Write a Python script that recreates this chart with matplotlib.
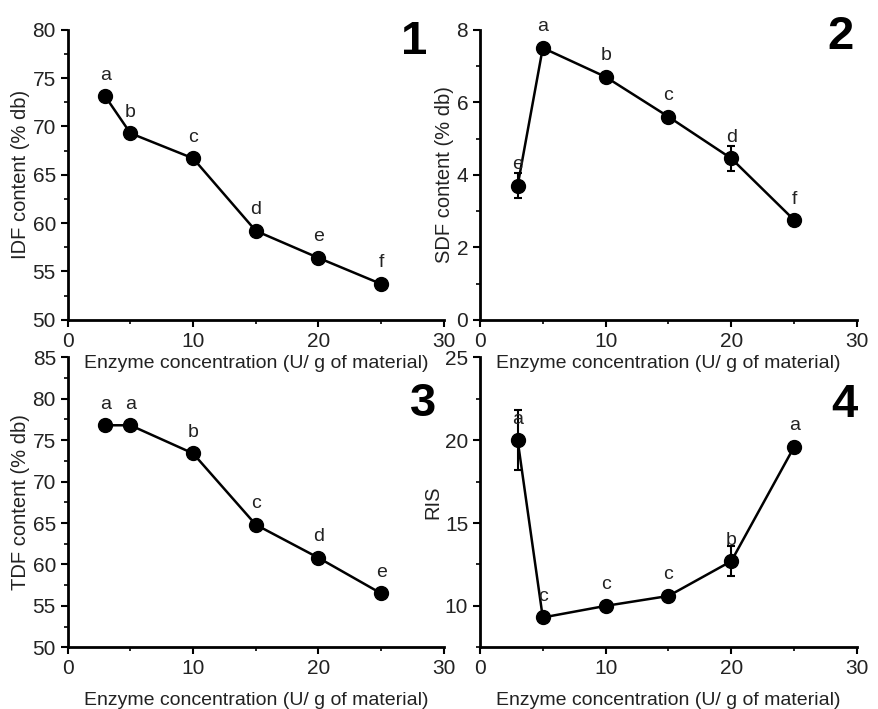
import numpy as np
import matplotlib.pyplot as plt
from matplotlib.ticker import MultipleLocator

plt.rcParams['font.family'] = ['Liberation Sans', 'DejaVu Sans']

# enzyme concentration (U/ g of material)
conc = [3, 5, 10, 15, 20, 25]

idf = [73.1, 69.3, 66.7, 59.2, 56.4, 53.7]
idf_err = [0.3, 0.5, 0.5, 0.3, 0.3, 0.2]
idf_lbl = ["a", "b", "c", "d", "e", "f"]

sdf = [3.7, 7.5, 6.7, 5.6, 4.45, 2.75]
sdf_err = [0.35, 0.08, 0.1, 0.08, 0.35, 0.08]
sdf_lbl = ["e", "a", "b", "c", "d", "f"]

tdf = [76.8, 76.8, 73.4, 64.8, 60.8, 56.5]
tdf_err = [0.3, 0.3, 0.5, 0.4, 0.5, 0.3]
tdf_lbl = ["a", "a", "b", "c", "d", "e"]

ris = [20.0, 9.3, 10.0, 10.6, 12.7, 19.6]
ris_err = [1.8, 0.15, 0.2, 0.2, 0.9, 0.3]
ris_lbl = ["a", "c", "c", "c", "b", "a"]

fig = plt.figure(figsize=(8.79, 7.09), dpi=100)

panels = [
    ([0.077, 0.549, 0.428, 0.409], idf, idf_err, idf_lbl, "IDF content (% db)", (50, 80), 5, "1", (0.955, 1.035), 3),
    ([0.546, 0.549, 0.429, 0.409], sdf, sdf_err, sdf_lbl, "SDF content (% db)", (0, 8), 2, "2", (0.99, 1.05), 3),
    ([0.077, 0.087, 0.428, 0.409], tdf, tdf_err, tdf_lbl, "TDF content (% db)", (50, 85), 5, "3", (0.98, 0.915), 10),
    ([0.546, 0.087, 0.429, 0.409], ris, ris_err, ris_lbl, "RIS", (7.5, 25), 5, "4", (1.0, 0.91), 10),
]

for pos, y, err, lbl, ylab, ylim, step, num, num_xy, pad in panels:
    ax = fig.add_axes(pos)
    ax.errorbar(conc, y, yerr=err, color="black", lw=1.8, marker="o", ms=10,
                capsize=3, elinewidth=1.5, capthick=1.5)
    for xi, yi, t in zip(conc, y, lbl):
        ax.annotate(t, (xi, yi), xytext=(0, 9), textcoords="offset points",
                    ha="center", va="bottom", fontsize=14, color="#222222")
    ax.set_xlim(0, 30)
    ax.set_ylim(*ylim)
    ax.xaxis.set_major_locator(MultipleLocator(10))
    ax.xaxis.set_minor_locator(MultipleLocator(5))
    ax.yaxis.set_major_locator(MultipleLocator(step))
    ax.yaxis.set_minor_locator(MultipleLocator(step / 2))
    ax.spines["top"].set_visible(False)
    ax.spines["right"].set_visible(False)
    ax.spines["left"].set_linewidth(2)
    ax.spines["bottom"].set_linewidth(2)
    ax.tick_params(which="major", direction="out", length=5, width=1.5, labelsize=15, labelcolor="#222222")
    ax.tick_params(which="minor", direction="out", length=3, width=1.2)
    ax.set_xlabel("Enzyme concentration (U/ g of material)", fontsize=14, labelpad=pad, color="#222222")
    ax.set_ylabel(ylab, fontsize=14.5, labelpad=2, color="#222222")
    ax.text(num_xy[0], num_xy[1], num, transform=ax.transAxes, ha="right", va="top",
            fontsize=34, fontweight="bold")
    ax.patch.set_alpha(0)

plt.savefig("out.png", dpi=100)
plt.close()
